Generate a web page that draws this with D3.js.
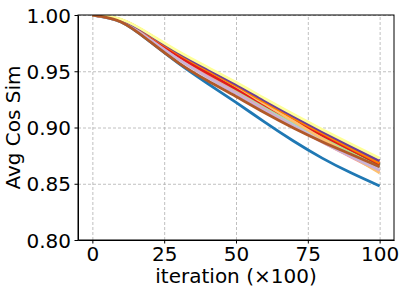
<!DOCTYPE html>
<html>
<head>
<meta charset="utf-8">
<script src="https://cdn.jsdelivr.net/npm/d3@7"></script>
<style>
  body { margin: 0; background: #fff; }
  svg text { font-family: "DejaVu Sans", sans-serif; fill: #000; }
  .grid line { stroke: #b0b0b0; stroke-width: 0.8; stroke-dasharray: 3,2; }
  .grid path { display: none; }
  .axis path, .axis line { stroke: #000; }
</style>
</head>
<body>
<div id="chart"></div>
<script>
/* ── Data ── */
const iterations = [0, 10, 20, 30, 40, 50, 60, 70, 80, 90, 100];

// Paired colour order, drawn in this order (brown ends up on top)
const seriesColors = ['#a6cee3', '#1f78b4', '#b2df8a', '#33a02c', '#fb9a99', '#e31a1c',
                      '#fdbf6f', '#ff7f00', '#cab2d6', '#6a3d9a', '#ffff99', '#b15928'];

const lightBlue   = [1, 0.9948, 0.9796, 0.9624, 0.9470, 0.9326, 0.9177, 0.9035, 0.8899, 0.8770, 0.8645];
const blue        = [1, 0.9938, 0.9765, 0.9570, 0.9393, 0.9223, 0.9048, 0.8880, 0.8728, 0.8597, 0.8480];
const lightGreen  = [1, 0.9950, 0.9802, 0.9632, 0.9480, 0.9338, 0.9190, 0.9050, 0.8915, 0.8786, 0.8660];
const green       = [1, 0.9954, 0.9815, 0.9652, 0.9506, 0.9366, 0.9219, 0.9077, 0.8940, 0.8804, 0.8670];
const pink        = [1, 0.9945, 0.9790, 0.9612, 0.9455, 0.9308, 0.9156, 0.9010, 0.8870, 0.8738, 0.8610];
const red         = [1, 0.9950, 0.9805, 0.9635, 0.9485, 0.9345, 0.9200, 0.9062, 0.8930, 0.8802, 0.8676];
const lightOrange = [1, 0.9960, 0.9825, 0.9665, 0.9515, 0.9368, 0.9210, 0.9055, 0.8900, 0.8748, 0.8596];
const orange      = [1, 0.9955, 0.9817, 0.9656, 0.9511, 0.9372, 0.9226, 0.9085, 0.8950, 0.8815, 0.8684];
const lightPurple = [1, 0.9942, 0.9784, 0.9605, 0.9448, 0.9302, 0.9152, 0.9008, 0.8870, 0.8742, 0.8620];
const purple      = [1, 0.9958, 0.9823, 0.9665, 0.9522, 0.9384, 0.9240, 0.9100, 0.8965, 0.8834, 0.8705];
const yellow      = [1, 0.9962, 0.9830, 0.9675, 0.9537, 0.9402, 0.9258, 0.9118, 0.8983, 0.8853, 0.8726];
const brown       = [1, 0.9938, 0.9765, 0.9575, 0.9418, 0.9276, 0.9131, 0.8996, 0.8874, 0.8762, 0.8650];

const seriesValues = [lightBlue, blue, lightGreen, green, pink, red,
                      lightOrange, orange, lightPurple, purple, yellow, brown];

const xTicks = [0, 25, 50, 75, 100];
const yTicks = [0.80, 0.85, 0.90, 0.95, 1.00];

/* ── Layout ── */
const W = 411, H = 290;
const M = { top: 15, right: 17, bottom: 50, left: 78 };
const iw = W - M.left - M.right;
const ih = H - M.top - M.bottom;
const FS = 20;

const x = d3.scaleLinear().domain([-5, 105]).range([0, iw]);
const y = d3.scaleLinear().domain([0.80, 1.00]).range([ih, 0]);

const svg = d3.select('#chart').append('svg')
  .attr('width', W).attr('height', H);

const g = svg.append('g').attr('transform', `translate(${M.left},${M.top})`);

// grid
g.append('g').attr('class', 'grid')
  .attr('transform', `translate(0,${ih})`)
  .call(d3.axisBottom(x).tickValues(xTicks).tickSize(-ih).tickFormat(''));
g.append('g').attr('class', 'grid')
  .call(d3.axisLeft(y).tickValues(yTicks).tickSize(-iw).tickFormat(''));

// lines
svg.append('defs').append('clipPath').attr('id', 'clip')
  .append('rect').attr('width', iw).attr('height', ih);

const line = d3.line()
  .x((d, i) => x(iterations[i]))
  .y(d => y(d))
  .curve(d3.curveNatural);

g.append('g').attr('clip-path', 'url(#clip)')
  .selectAll('path')
  .data(seriesValues)
  .join('path')
  .attr('fill', 'none')
  .attr('stroke', (d, i) => seriesColors[i])
  .attr('stroke-width', 2.8)
  .attr('d', line);

// axes
const xAxis = g.append('g').attr('class', 'axis')
  .attr('transform', `translate(0,${ih})`)
  .call(d3.axisBottom(x).tickValues(xTicks).tickSize(3.5).tickPadding(3.5).tickSizeOuter(0));
const yAxis = g.append('g').attr('class', 'axis')
  .call(d3.axisLeft(y).tickValues(yTicks).tickFormat(d3.format('.2f'))
    .tickSize(3.5).tickPadding(3.5).tickSizeOuter(0));
[xAxis, yAxis].forEach(a => a.selectAll('text')
  .style('font-family', '"DejaVu Sans", sans-serif').style('font-size', FS + 'px').attr('fill', '#000'));
yAxis.selectAll('text').attr('dy', '0.36em');

// frame
g.append('rect').attr('width', iw).attr('height', ih)
  .attr('fill', 'none').attr('stroke', '#000').attr('stroke-width', 1);

// labels
svg.append('text')
  .attr('x', M.left + iw / 2).attr('y', 283)
  .attr('text-anchor', 'middle').style('font-size', FS + 'px')
  .text('iteration (×100)');

svg.append('text')
  .attr('transform', `translate(20,${M.top + ih / 2}) rotate(-90)`)
  .attr('text-anchor', 'middle').style('font-size', FS + 'px')
  .text('Avg Cos Sim');
</script>
</body>
</html>
